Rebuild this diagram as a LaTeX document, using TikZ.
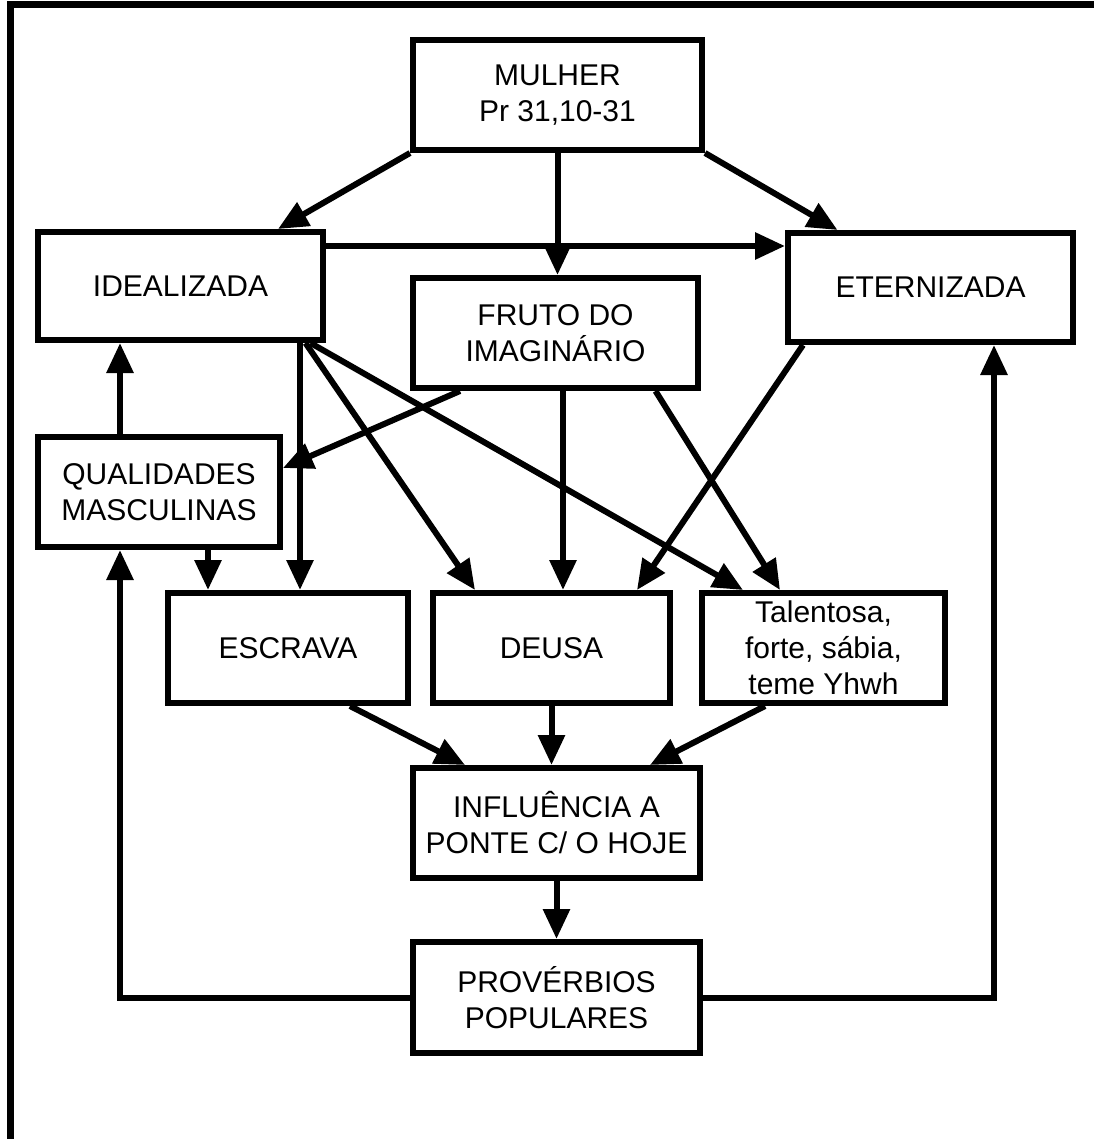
\documentclass[tikz,border=0pt]{standalone}
\usepackage{fontspec}
\setmainfont{Liberation Sans}
\usetikzlibrary{arrows.meta}
\begin{document}
\begin{tikzpicture}[x=0.5pt,y=-0.5pt,
caixa/.style={draw,line width=3pt,inner sep=0pt,align=center,font=\fontsize{15}{18}\selectfont},
seta/.style={line width=3pt,-{Triangle[length=15pt,width=13pt]}}]
\useasboundingbox (0,0) rectangle (1094,1139);
\draw[line width=3.5pt] (10,1139) -- (10,5) -- (1094,5);
\node[caixa,minimum width=144.5pt,minimum height=55pt] (mulher) at (557.5,95) {MULHER\\Pr 31,10-31};
\node[caixa,minimum width=142.5pt,minimum height=54pt] (idealizada) at (180.5,286) {IDEALIZADA};
\node[caixa,minimum width=142.5pt,minimum height=54.5pt] (eternizada) at (930.5,287.5) {ETERNIZADA};
\node[caixa,minimum width=142.5pt,minimum height=55pt] (fruto) at (555.5,333) {FRUTO DO\\IMAGIN\'ARIO};
\node[caixa,minimum width=121pt,minimum height=55pt] (qualidades) at (159,492) {QUALIDADES\\MASCULINAS};
\node[caixa,minimum width=120pt,minimum height=55pt] (escrava) at (288,648) {ESCRAVA};
\node[caixa,minimum width=118.5pt,minimum height=55pt] (deusa) at (551.5,648) {DEUSA};
\node[caixa,minimum width=121.5pt,minimum height=55pt] (talentosa) at (823.5,648) {Talentosa,\\forte, s\'abia,\\teme Yhwh};
\node[caixa,minimum width=143.5pt,minimum height=55pt] (influencia) at (556.5,823) {INFLU\^ENCIA A\\PONTE C/ O HOJE};
\node[caixa,minimum width=143.5pt,minimum height=55.5pt] (proverbios) at (556.5,997.5) {PROV\'ERBIOS\\POPULARES};
\draw[seta] (mulher.south west) -- ([shift={(97.5,0)}]idealizada.north);
\draw[seta] (mulher.south) -- (mulher.south |- fruto.north);
\draw[seta] (mulher.south east) -- ([shift={(-93,0)}]eternizada.north);
\draw[seta] ([shift={(0,-40)}]idealizada.east) -- ([shift={(0,-41.5)}]eternizada.west);
\draw[seta] ([shift={(-39,0)}]qualidades.north) -- ([shift={(-60.5,0)}]idealizada.south);
\draw[seta] ([shift={(-95.5,0)}]fruto.south) -- ([shift={(0,-24)}]qualidades.east);
\draw[seta] ([shift={(119.5,0)}]idealizada.south) -- ([shift={(12,0)}]escrava.north);
\draw[seta] ([shift={(49,0)}]qualidades.south) -- ([shift={(-80,0)}]escrava.north);
\draw[seta] ([shift={(125,0)}]idealizada.south) -- ([shift={(-76.5,0)}]deusa.north);
\draw[seta] ([shift={(130,0)}]idealizada.south) -- ([shift={(-80.5,0)}]talentosa.north);
\draw[seta] ([shift={(7.5,0)}]fruto.south) -- ([shift={(11.5,0)}]deusa.north);
\draw[seta] ([shift={(100,0)}]fruto.south) -- ([shift={(-43.5,0)}]talentosa.north);
\draw[seta] ([shift={(-127.5,0)}]eternizada.south) -- ([shift={(85.5,0)}]deusa.north);
\draw[seta] ([shift={(62,0)}]escrava.south) -- ([shift={(-91.5,0)}]influencia.north);
\draw[seta] (deusa.south) -- (deusa.south |- influencia.north);
\draw[seta] ([shift={(-58.5,0)}]talentosa.south) -- ([shift={(93.5,0)}]influencia.north);
\draw[seta] (influencia.south) -- (proverbios.north);
\draw[seta] (proverbios.west) -| ([shift={(-39,0)}]qualidades.south);
\draw[seta] (proverbios.east) -| ([shift={(63.5,0)}]eternizada.south);
\end{tikzpicture}
\end{document}
